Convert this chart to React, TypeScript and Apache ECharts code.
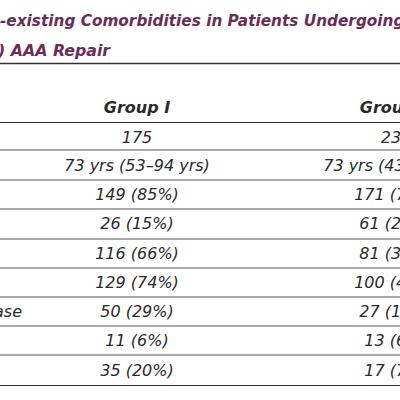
import React, { useEffect, useRef } from "react";
import * as echarts from "echarts";

const titleLines = [
  "Pre-existing Comorbidities in Patients Undergoing Open or Endovascular",
  "(EVAR) AAA Repair",
];
const titleHiddenPrefix = ["Pre", "(EVAR"];
const columnHeaders = ["Group I", "Group II"];
// only the longest row label reaches into the visible crop
const rowLabels = ["", "", "", "", "", "", "Peripheral vascular disease", "", ""];
const groupIValues = [
  "175",
  "73 yrs (53–94 yrs)",
  "149 (85%)",
  "26 (15%)",
  "116 (66%)",
  "129 (74%)",
  "50 (29%)",
  "11 (6%)",
  "35 (20%)",
];
const groupIIValues = [
  "232",
  "73 yrs (43–91 yrs)",
  "171 (74%)",
  "61 (26%)",
  "81 (35%)",
  "100 (43%)",
  "27 (12%)",
  "13 (6%)",
  "17 (7%)",
];

function measure(text: string, font: string): number {
  const c = document.createElement("canvas").getContext("2d");
  if (!c) return text.length * 9;
  c.font = font;
  return c.measureText(text).width;
}

export default function App() {
  const ref = useRef<HTMLDivElement>(null);
  useEffect(() => {
    if (!ref.current) return;
    const chart = echarts.init(ref.current, null, { renderer: "svg" });

    const titleSizes = [15.3, 15.8];
    const bodySize = 16;
    const bodyFont = `italic ${bodySize}px "DejaVu Sans"`;
    const titleColor = "#6b2d55";
    const textColor = "#2a2a2a";

    const titleY = [21, 50];
    const titleOffsets = [0, -2];
    const headerY = 107;
    const rowY = [137, 165, 194, 223, 253, 282, 311, 340, 370];
    const colX = [137, 396];
    const lineYs = [122, 150, 180, 209, 239, 268, 297, 326, 355, 385];

    const elements: any[] = [];

    titleLines.forEach((t, i) => {
      const titleFont = `italic bold ${titleSizes[i]}px "DejaVu Sans"`;
      const x = titleOffsets[i] - measure(titleHiddenPrefix[i], titleFont);
      elements.push({
        type: "text",
        x,
        y: titleY[i],
        style: {
          text: t,
          fill: titleColor,
          font: titleFont,
          textAlign: "left",
          textVerticalAlign: "middle",
        },
      });
    });

    elements.push({
      type: "line",
      shape: { x1: 0, y1: 63.5, x2: 400, y2: 63.5 },
      style: { stroke: "#333", lineWidth: 1.5 },
    });

    columnHeaders.forEach((h, i) => {
      elements.push({
        type: "text",
        x: colX[i],
        y: headerY,
        style: {
          text: h,
          fill: textColor,
          font: `italic bold ${bodySize}px "DejaVu Sans"`,
          textAlign: "center",
          textVerticalAlign: "middle",
        },
      });
    });

    lineYs.forEach((y, i) => {
      const dark = i === 0 || i === lineYs.length - 1;
      elements.push({
        type: "line",
        shape: { x1: 0, y1: dark ? y + 0.5 : y, x2: 400, y2: dark ? y + 0.5 : y },
        style: { stroke: dark ? "#333" : "#555", lineWidth: 1 },
      });
    });

    const longest = rowLabels.reduce((a, b) => (b.length > a.length ? b : a), "");
    const labelX = 22 - measure(longest, bodyFont);
    rowLabels.forEach((l, i) => {
      if (!l) return;
      elements.push({
        type: "text",
        x: labelX,
        y: rowY[i],
        style: {
          text: l,
          fill: textColor,
          font: bodyFont,
          textAlign: "left",
          textVerticalAlign: "middle",
        },
      });
    });

    [groupIValues, groupIIValues].forEach((vals, c) => {
      vals.forEach((v, i) => {
        elements.push({
          type: "text",
          x: colX[c],
          y: rowY[i],
          style: {
            text: v,
            fill: textColor,
            font: bodyFont,
            textAlign: "center",
            textVerticalAlign: "middle",
          },
        });
      });
    });

    chart.setOption({
      animation: false,
      backgroundColor: "#ffffff",
      graphic: { elements },
    });
    return () => chart.dispose();
  }, []);

  return (
    <div
      ref={ref}
      style={{ position: "absolute", left: 0, top: 0, width: 400, height: 400 }}
    />
  );
}
